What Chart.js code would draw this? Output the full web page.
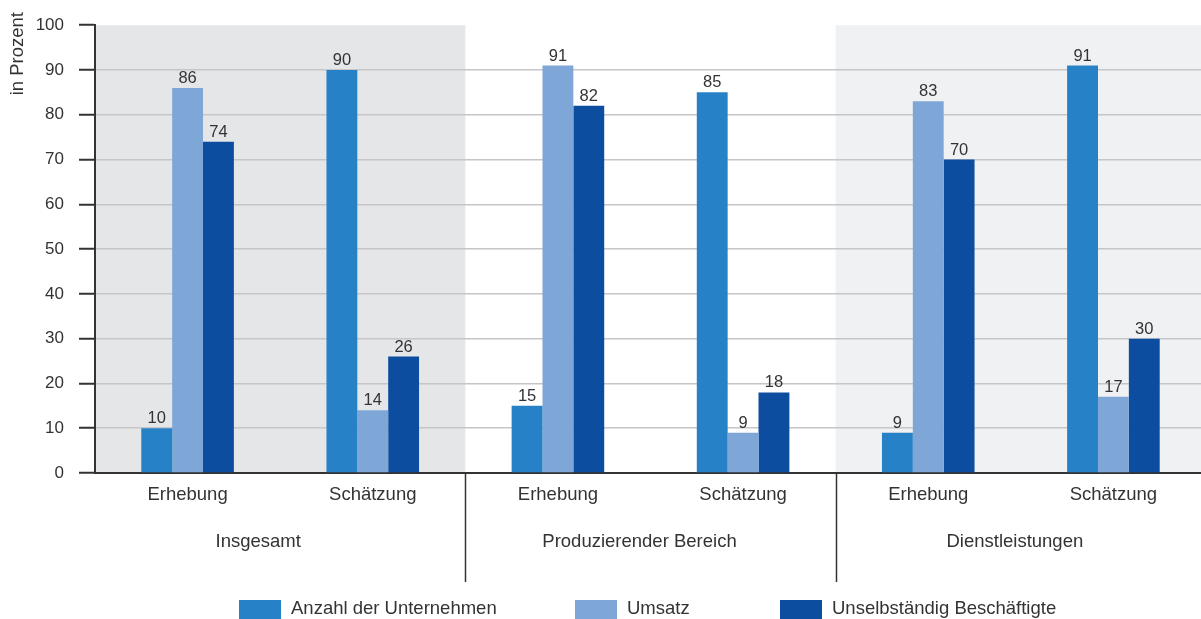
<!DOCTYPE html>
<html>
<head>
<meta charset="utf-8">
<script src="https://cdn.jsdelivr.net/npm/chart.js@4"></script>
<style>
  html, body { margin: 0; padding: 0; background: #fff; overflow: hidden; }
  #wrap { width: 1201px; height: 619px; overflow: hidden; }
</style>
</head>
<body>
<div id="wrap"><canvas id="chart" width="1206" height="619"></canvas></div>
<script>
const categories = ['Erhebung', 'Schätzung', 'Erhebung', 'Schätzung', 'Erhebung', 'Schätzung'];
const groups = ['Insgesamt', 'Produzierender Bereich', 'Dienstleistungen'];
const seriesNames = ['Anzahl der Unternehmen', 'Umsatz', 'Unselbständig Beschäftigte'];
const unternehmen = [10, 90, 15, 85, 9, 91];
const umsatz = [86, 14, 91, 9, 83, 17];
const beschaeftigte = [74, 26, 82, 18, 70, 30];
const yTicks = [0, 10, 20, 30, 40, 50, 60, 70, 80, 90, 100];

const colors = ['#2781c6', '#7ea7d8', '#0d4d9f'];
const textColor = '#333333';
const font = "'Liberation Sans', Arial, sans-serif";

const extras = {
    id: 'extras',
    beforeDraw(chart) {
        const ctx = chart.ctx;
        const area = chart.chartArea;
        const step = (area.right - area.left) / categories.length;
        const b1 = area.left + step * 2;
        const b2 = area.left + step * 4;
        ctx.save();
        ctx.fillStyle = '#e5e6e8';
        ctx.fillRect(area.left, area.top, b1 - area.left, area.bottom - area.top);
        ctx.fillStyle = '#f0f1f3';
        ctx.fillRect(b2, area.top, area.right - b2, area.bottom - area.top);
        ctx.restore();
    },
    afterDatasetsDraw(chart) {
        const ctx = chart.ctx;
        const area = chart.chartArea;
        ctx.save();
        ctx.font = '16.5px ' + font;
        ctx.fillStyle = textColor;
        ctx.textAlign = 'center';
        ctx.textBaseline = 'alphabetic';
        chart.data.datasets.forEach(function(ds, i) {
            chart.getDatasetMeta(i).data.forEach(function(bar, j) {
                ctx.fillText(String(ds.data[j]), bar.x, bar.y - 5);
            });
        });

        // group separators and labels
        const step = (area.right - area.left) / categories.length;
        ctx.strokeStyle = '#333';
        ctx.lineWidth = 1.5;
        [2, 4].forEach(function(k) {
            const bx = Math.round(area.left + step * k) + 0.5;
            ctx.beginPath();
            ctx.moveTo(bx, area.bottom);
            ctx.lineTo(bx, 582);
            ctx.stroke();
        });
        const groupOffsets = [-22, -11, -6];
        ctx.font = '18.5px ' + font;
        ctx.textBaseline = 'middle';
        groups.forEach(function(g, k) {
            const cx = area.left + step * (2 * k + 1) + groupOffsets[k];
            ctx.fillText(g, cx, 542);
        });

        // y axis title
        ctx.save();
        ctx.translate(18, 12);
        ctx.rotate(-Math.PI / 2);
        ctx.textAlign = 'right';
        ctx.textBaseline = 'middle';
        ctx.fillText('in Prozent', 0, 0);
        ctx.restore();

        // legend
        const legendX = [239, 575, 780];
        ctx.textAlign = 'left';
        ctx.textBaseline = 'middle';
        seriesNames.forEach(function(name, k) {
            ctx.fillStyle = colors[k];
            ctx.fillRect(legendX[k], 600, 42, 20);
            ctx.fillStyle = textColor;
            ctx.fillText(name, legendX[k] + 52, 609);
        });
        ctx.restore();
    }
};

const ctx = document.getElementById('chart').getContext('2d');
const chart = new Chart(ctx, {
    type: 'bar',
    data: {
        labels: categories,
        datasets: [
            { label: seriesNames[0], data: unternehmen, backgroundColor: colors[0] },
            { label: seriesNames[1], data: umsatz, backgroundColor: colors[1] },
            { label: seriesNames[2], data: beschaeftigte, backgroundColor: colors[2] }
        ]
    },
    options: {
        responsive: false,
        animation: false,
        devicePixelRatio: 1,
        layout: { padding: { top: 19, right: 0, left: 0, bottom: 0 } },
        datasets: { bar: { categoryPercentage: 0.5, barPercentage: 1.0 } },
        plugins: {
            legend: { display: false },
            tooltip: { enabled: false }
        },
        scales: {
            x: {
                grid: { display: false, drawTicks: false },
                border: { display: true, color: '#333', width: 2 },
                ticks: { color: textColor, font: { family: font, size: 18.5 }, padding: 11, maxRotation: 0 },
                afterFit: function(scale) { scale.height = 146; }
            },
            y: {
                min: 0,
                max: 100,
                afterBuildTicks: function(scale) {
                    scale.ticks = yTicks.map(function(v) { return { value: v }; });
                },
                grid: {
                    color: function(c) { return c.tick && c.tick.value === 100 ? 'rgba(0,0,0,0)' : '#c6c6c8'; },
                    lineWidth: 1.5, tickLength: 16, tickColor: '#333', tickWidth: 2
                },
                border: { display: true, color: '#333', width: 2 },
                ticks: { color: textColor, font: { family: font, size: 17 }, padding: 15 },
                afterFit: function(scale) { scale.width = 95; }
            }
        }
    },
    plugins: [extras]
});
</script>
</body>
</html>
